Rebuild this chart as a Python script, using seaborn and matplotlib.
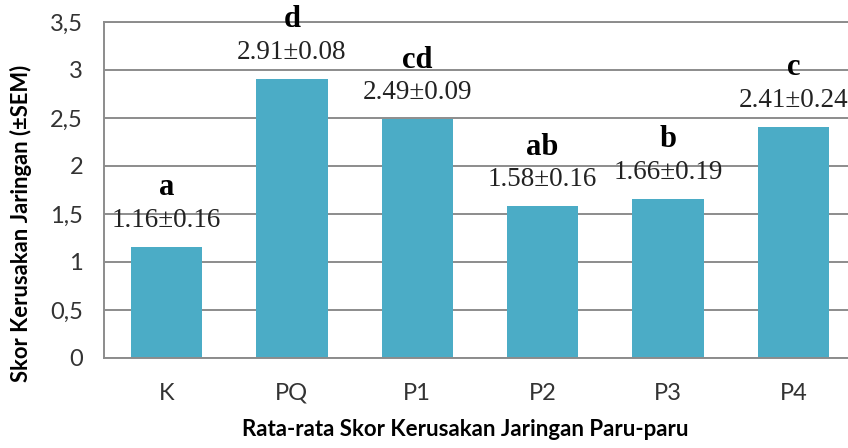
import matplotlib.pyplot as plt
import seaborn as sns

# data
groups = ["K", "PQ", "P1", "P2", "P3", "P4"]
means = [1.16, 2.91, 2.49, 1.58, 1.66, 2.41]
sems = [0.16, 0.08, 0.09, 0.16, 0.19, 0.24]
letters = ["a", "d", "cd", "ab", "b", "c"]
y_ticks = [0, 0.5, 1, 1.5, 2, 2.5, 3, 3.5]
y_tick_labels = ["0", "0,5", "1", "1,5", "2", "2,5", "3", "3,5"]

BAR = "#4BACC6"
GRID = "#8c8c8c"

sns.set_theme(style="white")
plt.rcParams["font.family"] = ["Lato", "DejaVu Sans"]

fig = plt.figure(figsize=(8.48, 4.48), dpi=100)
ax = fig.add_axes([0.1225, 0.2009, 0.887, 0.75])

sns.barplot(x=groups, y=means, color=BAR, saturation=1, width=0.57, ax=ax, zorder=2, linewidth=0)

ax.set_xlim(-0.5, 5.5)
ax.set_ylim(0, 3.5)
ax.set_yticks(y_ticks, y_tick_labels)
ax.yaxis.grid(True, color=GRID, linewidth=1.4)
ax.set_axisbelow(True)
for side in ["left", "bottom", "top"]:
    ax.spines[side].set_visible(True)
    ax.spines[side].set_color(GRID)
    ax.spines[side].set_linewidth(1.4)
ax.spines["right"].set_visible(False)
ax.tick_params(axis="y", length=0, pad=15, labelsize=17, labelcolor="#333333")
ax.tick_params(axis="x", length=0, pad=18, labelsize=17, labelcolor="#333333")

for i, (m, s, lt) in enumerate(zip(means, sems, letters)):
    ax.annotate(f"{m:.2f}±{s:.2f}", (i, m), xytext=(0, 14.4), textcoords="offset points",
                ha="center", va="baseline", fontfamily="Liberation Serif", fontsize=19.5, color="#222222")
    ax.annotate(lt, (i, m), xytext=(0, 37), textcoords="offset points",
                ha="center", va="baseline", fontfamily="Liberation Serif", fontweight="bold",
                fontsize=22, color="black")

ax.set_xlabel("Rata-rata Skor Kerusakan Jaringan Paru-paru", fontsize=16, fontweight="bold", color="black")
ax.set_ylabel("Skor Kerusakan Jaringan (±SEM)", fontsize=15.8, fontweight="bold", color="black")
ax.xaxis.set_label_coords(0.481, -0.182)
ax.yaxis.set_label_coords(-0.0957, 0.40)

fig.savefig("out.png", dpi=100)
